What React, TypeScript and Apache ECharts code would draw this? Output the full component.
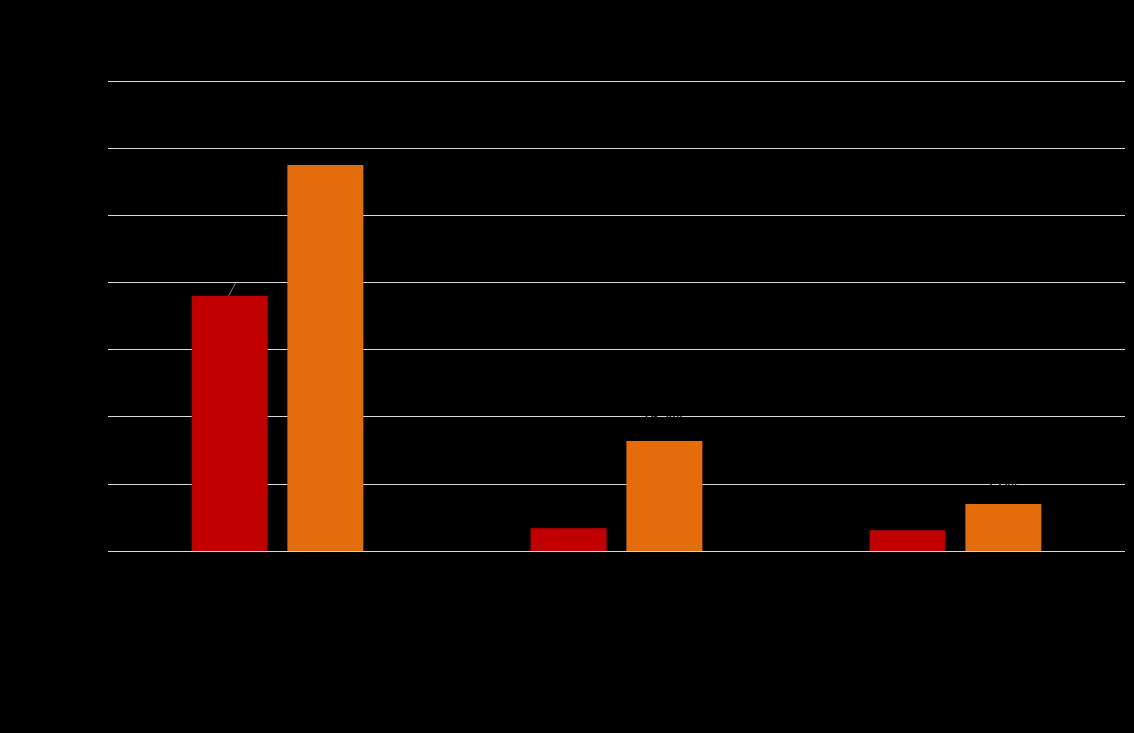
import React, { useEffect, useRef } from "react";
import * as echarts from "echarts";

const categories = ["Category 1", "Category 2", "Category 3"];
const seriesNames = ["Series 1", "Series 2"];
const series1Values = [38.0, 3.4, 3.1];
const series2Values = [57.5, 16.4, 7.0];
const yTicks = { min: 0, max: 70, interval: 10 };

export default function App() {
  const ref = useRef<HTMLDivElement>(null);
  useEffect(() => {
    document.body.style.margin = "0";
    document.body.style.background = "#000";
    const chart = echarts.init(ref.current!, null, { renderer: "svg" });
    const fmt = (p: any) => p.value.toFixed(1) + "%";
    const s1Data = series1Values.map((v, i) =>
      i === 0 ? { value: v, label: { show: true, position: "top", distance: 16, offset: [14, 0] } } : { value: v }
    );
    const s2Data = series2Values.map((v, i) =>
      i === 0
        ? { value: v, label: { show: true, position: "top", distance: 3, fontSize: 12 } }
        : i === 1
        ? { value: v, label: { show: true, position: "top", distance: 14, fontSize: 16 } }
        : { value: v, label: { show: true, position: "top", distance: 10, fontSize: 16 } }
    );
    chart.setOption({
      animation: false,
      backgroundColor: "#000000",
      grid: { left: 108, right: 9, top: 81, bottom: 182, containLabel: false },
      legend: {
        show: true,
        bottom: 40,
        data: seriesNames,
        textStyle: { color: "#000" },
        itemWidth: 0,
        itemHeight: 0,
        icon: "none",
      },
      xAxis: {
        type: "category",
        data: categories,
        axisLine: { show: false },
        axisTick: { show: false },
        axisLabel: { color: "#000", fontSize: 14 },
      },
      yAxis: {
        type: "value",
        min: yTicks.min,
        max: yTicks.max,
        interval: yTicks.interval,
        axisLine: { show: false },
        axisTick: { show: false },
        axisLabel: { color: "#000", fontSize: 14 },
        splitLine: { lineStyle: { color: "#d9d9d9", width: 1 } },
      },
      series: [
        {
          name: seriesNames[0],
          type: "bar",
          data: s1Data,
          barWidth: 76,
          barGap: "26%",
          itemStyle: { color: "#C00000" },
          label: { show: true, position: "top", distance: 6, color: "#000", fontSize: 15, formatter: fmt },
        },
        {
          name: seriesNames[1],
          type: "bar",
          data: s2Data,
          barWidth: 76,
          barGap: "26%",
          itemStyle: { color: "#E46C0A" },
          label: { show: true, position: "top", distance: 10, color: "#000", fontSize: 15, formatter: fmt },
        },
      ],
    });
    // leader line from top of first red bar, using the bar's computed layout
    try {
      const seriesModel: any = (chart as any).getModel().getSeriesByIndex(0);
      const layout = seriesModel.getData().getItemLayout(0);
      if (layout) {
        const cx = layout.x + layout.width / 2;
        const top = Math.min(layout.y, layout.y + layout.height);
        chart.setOption({
          graphic: [
            {
              type: "line",
              shape: { x1: cx - 1, y1: top, x2: cx + 6, y2: top - 13 },
              style: { stroke: "#808080", lineWidth: 1 },
              z: 10,
            },
          ],
        });
      }
    } catch (e) {}
    return () => chart.dispose();
  }, []);
  return <div ref={ref} style={{ width: 1134, height: 733 }} />;
}
